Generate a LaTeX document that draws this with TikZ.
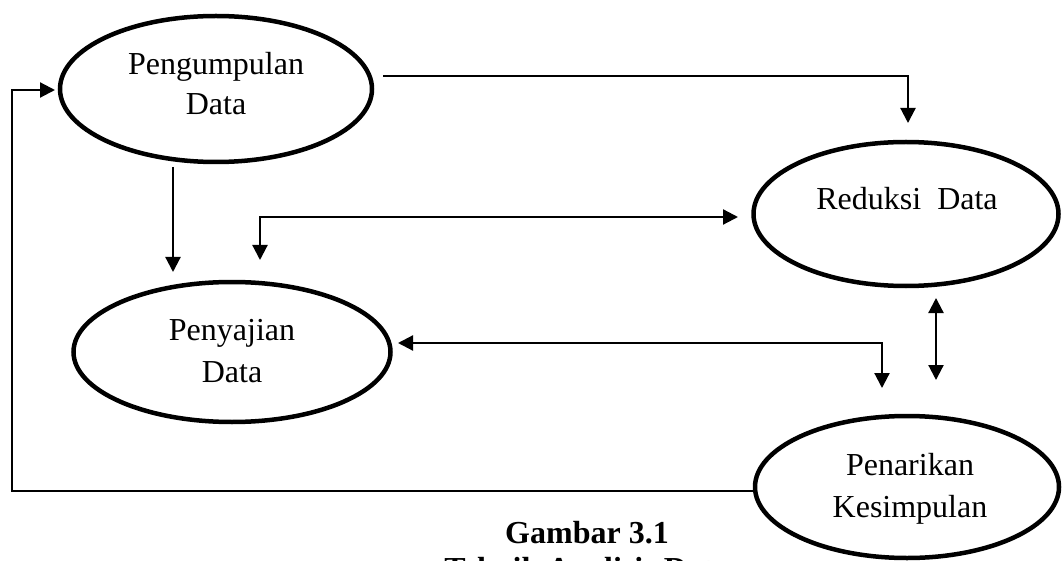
\documentclass[tikz,border=0pt]{standalone}
\usepackage{fontspec}
\setmainfont{Liberation Serif}
\usetikzlibrary{arrows.meta,shapes.geometric}
\begin{document}
\begin{tikzpicture}[x=1pt,y=-1pt,
  oval/.style={ellipse,draw=black,line width=4.5pt,inner sep=0pt},
  lbl/.style={anchor=base,inner sep=0pt,font=\fontsize{32}{40}\selectfont},
  conn/.style={line width=2.2pt,line join=miter},
  tip/.style={-{Triangle[length=15pt,width=15pt]}},
  tips/.style={{Triangle[length=15pt,width=15pt]}-{Triangle[length=15pt,width=15pt]}}]
\useasboundingbox (0,0) rectangle (1062,561);
\clip (0,0) rectangle (1062,561);
% ellipses
\node[oval,minimum width=312pt,minimum height=146pt] (e1) at (216,89) {};
\node[oval,minimum width=305pt,minimum height=144pt] (e2) at (906,214) {};
\node[oval,minimum width=317pt,minimum height=140pt] (e3) at (232,352) {};
\node[oval,minimum width=304pt,minimum height=142pt] (e4) at (907,487) {};
% labels
\node[lbl] (t1a) at (216,75) {Pengumpulan};
\node[lbl] (t1b) at (216,115) {Data};
\node[lbl] (t2) at (907,210) {Reduksi\ \ Data};
\node[lbl] (t3a) at (232,340) {Penyajian};
\node[lbl] (t3b) at (232,382) {Data};
\node[lbl] (t4a) at (910,475) {Penarikan};
\node[lbl] (t4b) at (910,517) {Kesimpulan};
% caption
\node[lbl,font=\fontsize{32}{40}\selectfont\bfseries] (cap1) at (587,543) {Gambar 3.1};
\node[lbl,font=\fontsize{32}{40}\selectfont\bfseries] (cap2) at (587,579) {Teknik Analisis Data};
% connector end points
\coordinate (a1) at (383,76);
\coordinate (a2) at (908,123);
\coordinate (b1) at (173,167);
\coordinate (b2) at (173,272);
\coordinate (c1) at (260,260);
\coordinate (c2) at (738,217);
\coordinate (d1) at (936,298);
\coordinate (d2) at (936,380);
\coordinate (f1) at (398,343);
\coordinate (f2) at (882,388);
\coordinate (g1) at (12,491);
\coordinate (g2) at (55,90);
% connectors
\draw[conn,tip] (a1) -| (a2);
\draw[conn,tip] (b1) -- (b2);
\draw[conn,tips] (c1) |- (c2);
\draw[conn,tips] (d1) -- (d2);
\draw[conn,tips] (f1) -| (f2);
\draw[conn,tip] (e4.west |- g1) -- (g1) |- (g2);
\end{tikzpicture}
\end{document}
